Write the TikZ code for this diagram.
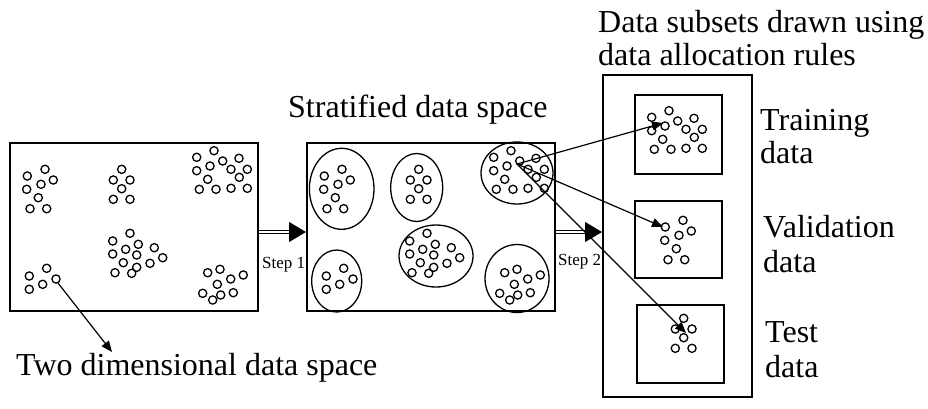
\documentclass[tikz,border=0pt]{standalone}
\usepackage{fontspec}
\setmainfont{Liberation Serif}
\usetikzlibrary{arrows.meta,shapes.geometric,calc}

% point clusters (coordinates of the original data space)
\newcommand\ptsA{\foreach \x/\y in {45/169.3,27.3/176,53.3/180,41/184.3,26.7/189.3,38.3/197.7,30/208.7,46.7/208.7}{\draw[dot] (\x,\y) circle[radius=4.1pt];}}
\newcommand\ptsB{\foreach \x/\y in {121.7/169.3,113.3/180,130/180,121.7/188.7,113.3/199.3,130/199.3}{\draw[dot] (\x,\y) circle[radius=4.1pt];}}
\newcommand\ptsC{\foreach \x/\y in {214/150.7,196.7/157.3,239/158.3,222.7/161,210/166,196.7/170.7,231/169.3,247.3/169.3,239.3/177.3,207.7/179.3,199.3/189.3,216/189.3,231/188.3,247.3/188.3}{\draw[dot] (\x,\y) circle[radius=4.1pt];}}
\newcommand\ptsD{\foreach \x/\y in {130/233.3,112.7/241,138.3/244.3,154.3/247.7,125.7/249.3,112.7/254,136.7/255,162.7/257.7,123.3/262.7,150/263.3,136.7/267.3,115/272.7,131.7/273.3}{\draw[dot] (\x,\y) circle[radius=4.1pt];}}
\newcommand\ptsE{\foreach \x/\y in {46.7/268.3,29.3/276,56/279,42.7/284.3,29.3/289.3}{\draw[dot] (\x,\y) circle[radius=4.1pt];}}
\newcommand\ptsF{\foreach \x/\y in {220/269.3,207.7/272.7,243.3/275,230.7/279,217.3/284.3,202.7/293.3,233.3/292.7,220.7/295,212.7/300}{\draw[dot] (\x,\y) circle[radius=4.1pt];}}

\begin{document}
\begin{tikzpicture}[x=1pt,y=-1pt,
  frame/.style={draw, line width=2pt, inner sep=0pt},
  blob/.style={draw, ellipse, line width=1.3pt, inner sep=0pt},
  dot/.style={line width=1.3pt},
  lbl/.style={inner sep=0pt, anchor=base west, font=\fontsize{32}{34}\selectfont},
  steplbl/.style={inner sep=0pt, anchor=base west, font=\fontsize{17}{19}\selectfont},
  link/.style={line width=1.2pt, -{Triangle[length=11pt,width=9pt]}},
  shaft/.style={double, line width=1.2pt, double distance=1.8pt},
  head/.style={line width=1pt, -{Triangle[length=17pt,width=20pt]}}]
\useasboundingbox (0,0) rectangle (928,408);

% boxes
\node[frame, minimum width=248pt, minimum height=168pt] (L) at (134,227) {};
\node[frame, minimum width=248pt, minimum height=168pt] (M) at (431,227) {};
\node[frame, minimum width=149pt, minimum height=322pt] (R) at (677.5,236) {};
\node[frame, minimum width=87pt, minimum height=79pt] (T) at (678.5,134.5) {};
\node[frame, minimum width=87pt, minimum height=77pt] (V) at (678.5,239.5) {};
\node[frame, minimum width=87pt, minimum height=78pt] (S) at (680.5,344) {};

% strata in the middle box
\node[blob, minimum width=64.6pt, minimum height=81pt] (e1) at (341.7,188.8) {};
\node[blob, minimum width=52pt, minimum height=68pt] (e2) at (416.7,187.5) {};
\node[blob, minimum width=50pt, minimum height=62pt] (e3) at (336.7,281) {};
\node[blob, minimum width=74pt, minimum height=62pt] (e4) at (436,256) {};
\node[blob, minimum width=72pt, minimum height=62pt] (e5) at (517,173) {};
\node[blob, minimum width=64pt, minimum height=68pt] (e6) at (517,278.5) {};

% data points
\ptsA \ptsB \ptsC \ptsD \ptsE \ptsF
\begin{scope}[shift={(297,0)}]
  \ptsA \ptsB \ptsC \ptsD \ptsE \ptsF
\end{scope}
\begin{scope}[shift={(455,-40)}] \ptsC \end{scope}
\begin{scope}[shift={(638,51)}] \ptsA \end{scope}
\begin{scope}[shift={(562,149)}] \ptsB \end{scope}

% step arrows
\coordinate (s1a) at (L.east |- 0,232);
\coordinate (s1b) at (M.west |- 0,232);
\coordinate (s2a) at (M.east |- 0,232);
\coordinate (s2b) at (R.west |- 0,232);
\draw[shaft] (s1a) -- ($(s1b)+(-15,0)$);
\draw[head] ($(s1b)+(-17.5,0)$) -- (s1b);
\draw[shaft] (s2a) -- ($(s2b)+(-15,0)$);
\draw[head] ($(s2b)+(-17.5,0)$) -- (s2b);
\node[steplbl] (st1) at (262,268) {Step 1};
\node[steplbl] (st2) at (558,265) {Step 2};

% allocation arrows
\coordinate (src) at (517,164);
\coordinate (trT) at (663,123);
\coordinate (vaT) at (663,227);
\coordinate (teT) at (686,333);
\draw[link] (src) -- (trT);
\draw[link] (src) -- (vaT);
\draw[link] (src) -- (teT);

% pointer to the data space label
\coordinate (p0) at (58,283);
\coordinate (p1) at (112,352);
\draw[link] (p0) -- (p1);

% labels
\node[lbl] (t1) at (598,32) {Data subsets drawn using};
\node[lbl] (t2) at (598,65) {data allocation rules};
\node[lbl] (ts) at (288,117) {Stratified data space};
\node[lbl] (tr1) at (760,130) {Training};
\node[lbl] (tr2) at (760,163) {data};
\node[lbl] (va1) at (763,237) {Validation};
\node[lbl] (va2) at (763,272) {data};
\node[lbl] (te1) at (765,342) {Test};
\node[lbl] (te2) at (765,377) {data};
\node[lbl] (td) at (16,375) {Two dimensional data space};
\end{tikzpicture}
\end{document}
